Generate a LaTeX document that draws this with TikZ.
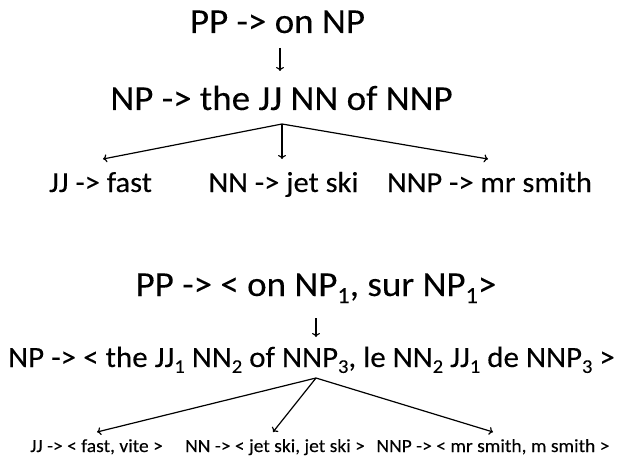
\documentclass[tikz,border=0pt]{standalone}
\usepackage{fontspec}
\usepackage{graphicx}
\setmainfont{Carlito}[FakeBold=0.15]
\usetikzlibrary{arrows.meta}
\newcommand\sbx[1]{\raisebox{-0.2em}{\scalebox{0.66}{#1}}}
\newcommand\sq[1]{\scalebox{1}[0.95]{#1}}
\tikzset{
  lbl/.style={inner sep=0pt, anchor=base},
  big/.style={lbl, font=\fontsize{37}{44}\selectfont},
  mid/.style={lbl, font=\fontsize{30.5}{37}\selectfont},
  long/.style={lbl, font=\fontsize{31}{37}\selectfont},
  small/.style={lbl, font=\fontsize{19.5}{23}\selectfont},
  arr/.style={line width=1.2pt, -{To[length=4pt,width=8pt]}}
}
\begin{document}
\begin{tikzpicture}[x=1pt,y=-1pt]
\useasboundingbox (0,0) rectangle (619,460);
% first derivation
\node[big] (pp1) at (277.5,33) {\sq{PP -> on NP}};
\node[big] (np1) at (281.5,110) {\sq{NP -> the JJ NN of NNP}};
\node[mid] (jj1) at (100.5,192) {\sq{JJ -> fast}};
\node[mid] (nn1) at (283.5,192) {\sq{NN -> jet ski}};
\node[mid] (nnp1) at (489.5,192) {\sq{NNP -> mr smith}};
\draw[arr] ([shift={(2.5pt,-15pt)}]pp1.base) -- ([shift={(-1.5pt,39pt)}]np1.base);
\draw[arr] ([shift={(0.5pt,-14pt)}]np1.base) -- ([shift={(2.5pt,33pt)}]jj1.base);
\draw[arr] ([shift={(0.5pt,-14pt)}]np1.base) -- ([shift={(-1.5pt,33pt)}]nn1.base);
\draw[arr] ([shift={(0.5pt,-14pt)}]np1.base) -- ([shift={(-1.5pt,33pt)}]nnp1.base);
% second derivation
\node[big] (pp2) at (316,296) {\sq{PP -> < on NP\sbx{1}, sur NP\sbx{1}>}};
\node[long] (np2) at (311.5,367) {\sq{NP -> < the JJ\sbx{1} NN\sbx{2} of NNP\sbx{3}, le NN\sbx{2} JJ\sbx{1} de NNP\sbx{3} >}};
\node[small] (jj2) at (96.5,452) {\sq{JJ -> < fast, vite >}};
\node[small] (nn2) at (275,452) {\sq{NN -> < jet ski, jet ski >}};
\node[small] (nnp2) at (493,452) {\sq{NNP -> < mr smith, m smith >}};
\draw[arr] ([shift={(0pt,-22pt)}]pp2.base) -- ([shift={(4.5pt,30pt)}]np2.base);
\draw[arr] ([shift={(4.5pt,-11pt)}]np2.base) -- ([shift={(0.5pt,20pt)}]jj2.base);
\draw[arr] ([shift={(4.5pt,-11pt)}]np2.base) -- ([shift={(-2pt,20pt)}]nn2.base);
\draw[arr] ([shift={(4.5pt,-11pt)}]np2.base) -- ([shift={(0pt,20pt)}]nnp2.base);
\end{tikzpicture}
\end{document}
